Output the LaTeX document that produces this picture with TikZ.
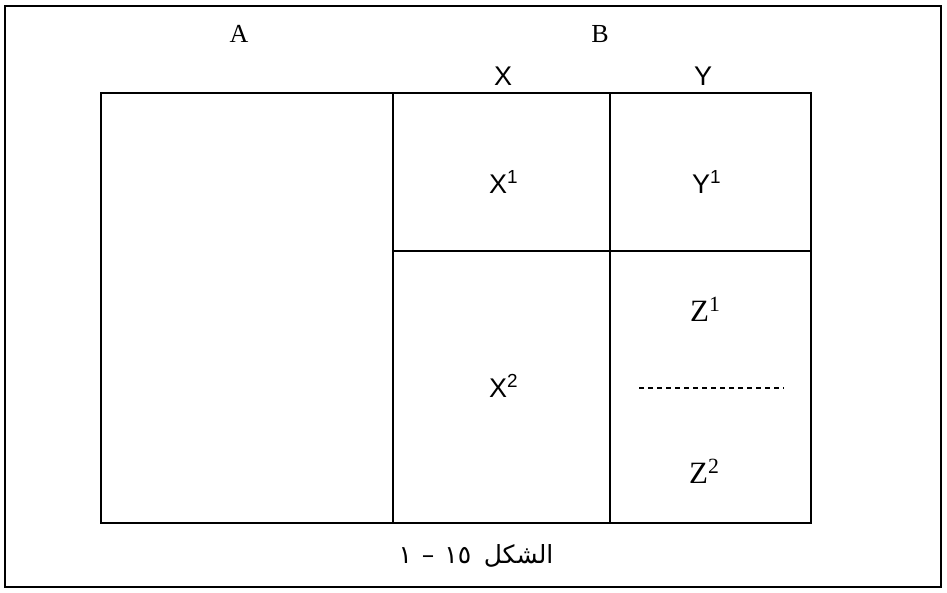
\documentclass[tikz,border=0pt]{standalone}
\usepackage{fontspec}
\setmainfont{Liberation Serif}
\newfontfamily\arialfont{Liberation Sans}
\newfontfamily\arabicfont[Script=Arabic]{DejaVu Sans}
\TeXXeTstate=1
\begin{document}
\begin{tikzpicture}[x=1pt,y=-1pt,
  frame/.style={line width=1.8pt},
  grid/.style={line width=1.8pt},
  serlabel/.style={inner sep=0pt, font=\fontsize{26}{28}\selectfont},
  sanslabel/.style={inner sep=0pt, font=\arialfont\fontsize{27}{30}\selectfont},
  zlabel/.style={inner sep=0pt, font=\fontsize{31}{34}\selectfont},
  captext/.style={inner sep=0pt, font=\arabicfont\fontsize{25}{28}\selectfont}]
\useasboundingbox (0,0) rectangle (947,592);
\draw[frame] (5,6) rectangle (941,587);
% table
\draw[grid] (101,93) rectangle (811,523);
\draw[grid] (393,93) -- (393,523);
\draw[grid] (610,93) -- (610,523);
\draw[grid] (393,251) -- (811,251);
\draw[line width=1.5pt, dash pattern=on 5pt off 4pt] (639,388) -- (784,388);
% labels
\node[serlabel] (A) at (239,34) {A};
\node[serlabel] (B) at (600,34) {B};
\node[sanslabel] (X) at (503,76) {X};
\node[sanslabel] (Y) at (703,76) {Y};
\node[sanslabel, anchor=base west] (X1) at (489,193) {X\textsuperscript{1}};
\node[sanslabel, anchor=base west] (Y1) at (692,193) {Y\textsuperscript{1}};
\node[sanslabel, anchor=base west] (X2) at (489,397) {X\textsuperscript{2}};
\node[zlabel, anchor=base west] (Z1) at (690,321) {Z\textsuperscript{1}};
\node[zlabel, anchor=base west] (Z2) at (689,483) {Z\textsuperscript{2}};
\node[captext] (C) at (476,556) {\beginR الشكل\hspace{0.5em}\beginL ١٥\endL{}\hspace{0.4em}–\hspace{0.4em}١\endR};
\end{tikzpicture}
\end{document}
